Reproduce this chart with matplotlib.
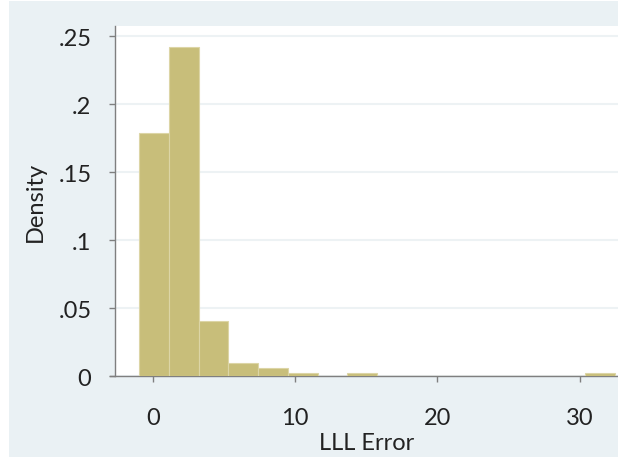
import numpy as np
import matplotlib.pyplot as plt
from matplotlib.patches import Rectangle

# histograma de LLL Error (densidad por intervalo)
inicio_bins = -0.96
ancho_bin = 2.09
densidades = [0.179, 0.2424, 0.0406, 0.0096, 0.0057, 0.0025, 0.0, 0.0025,
              0.0, 0.0, 0.0, 0.0, 0.0, 0.0, 0.0, 0.0025]
ticks_x = [0, 10, 20, 30]
ticks_y = [0, 0.05, 0.1, 0.15, 0.2, 0.25]
etiquetas_y = ["0", ".05", ".1", ".15", ".2", ".25"]

color_fondo = "#EAF1F4"
color_barra = "#C8BE7A"

plt.rcParams['font.family'] = ['Lato', 'DejaVu Sans']

W, H = 618, 460
fig = plt.figure(figsize=(W / 100, H / 100), dpi=100)
fig.patch.set_facecolor("white")
# fondo gris azulado tipo Stata
fig.add_artist(Rectangle((9 / W, 2 / H), 1 - 9 / W, (458 - 2) / H,
                         transform=fig.transFigure, facecolor=color_fondo,
                         edgecolor="none", zorder=0))

izq, der, arr, aba = 115, 618, 27, 377
ax = fig.add_axes([izq / W, 1 - aba / H, (der - izq) / W, (aba - arr) / H])
ax.set_facecolor("white")

# bordes de los bins
bordes = inicio_bins + ancho_bin * np.arange(len(densidades))
ax.bar(bordes, densidades, width=ancho_bin, align='edge', color=color_barra,
       edgecolor="#DCD5A6", linewidth=0.8, zorder=3)

px_por_unidad = 142.4 / 10
x0 = -(152.7 - izq) / px_por_unidad
x1 = x0 + (der - izq) / px_por_unidad
ax.set_xlim(x0, x1)
ax.set_ylim(0, 0.2575)

ax.set_xticks(ticks_x)
ax.set_yticks(ticks_y)
ax.set_yticklabels(etiquetas_y)
ax.grid(axis='y', color="#EDF2F4", linewidth=1.5, zorder=0)
ax.set_axisbelow(True)

for lado in ['top', 'right']:
    ax.spines[lado].set_visible(False)
for lado in ['left', 'bottom']:
    ax.spines[lado].set_color("#7F7F7F")
    ax.spines[lado].set_linewidth(1.0)
ax.spines['bottom'].set_bounds(x0 - 5 / px_por_unidad, x1)

ax.tick_params(axis='both', colors="#7F7F7F", length=4, width=1.0,
               labelcolor="#222222", labelsize=17)
ax.tick_params(axis='y', pad=13)
ax.tick_params(axis='x', pad=18)

ax.set_xlabel("LLL Error", fontsize=17, color="#222222", labelpad=3)
ax.set_ylabel("Density", fontsize=17, color="#222222", labelpad=9)

fig.savefig("out.png", dpi=100, facecolor=fig.get_facecolor())
